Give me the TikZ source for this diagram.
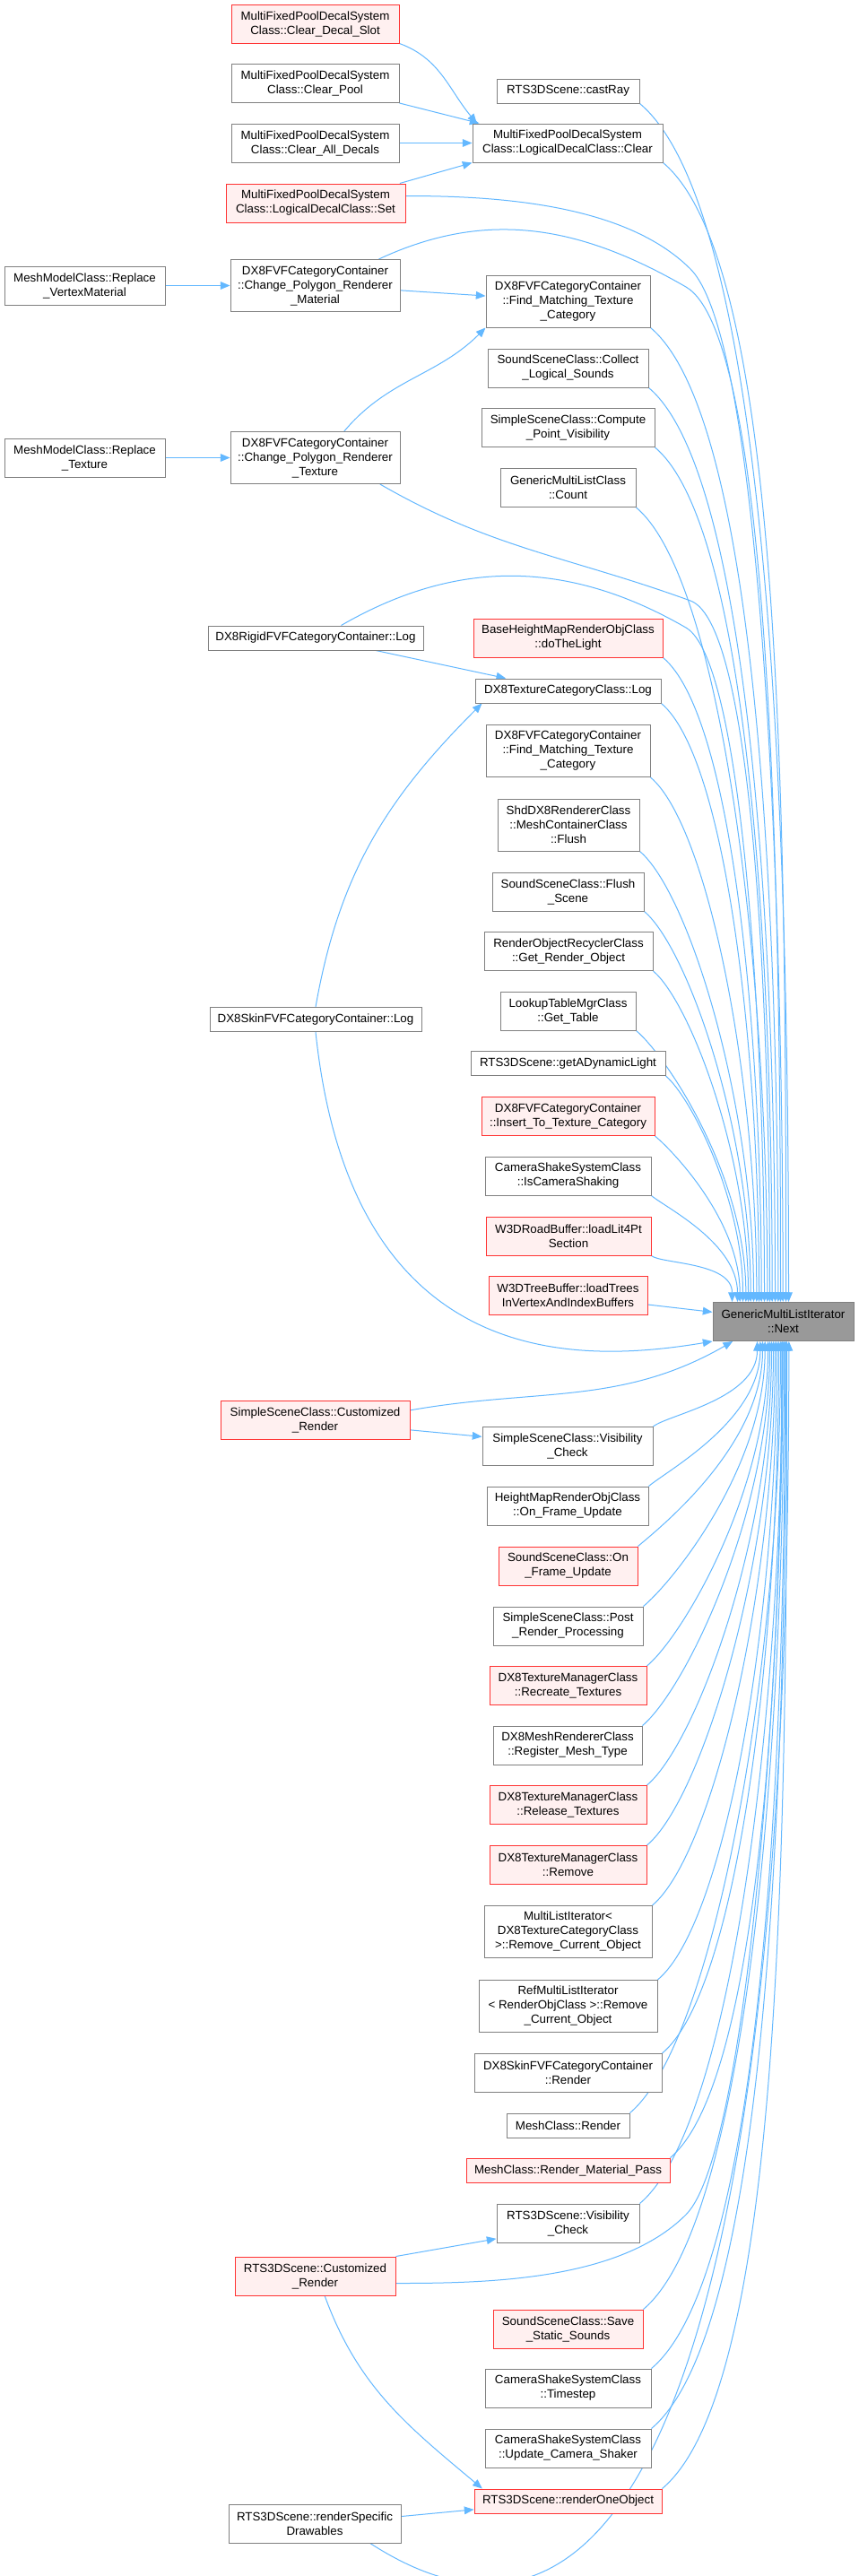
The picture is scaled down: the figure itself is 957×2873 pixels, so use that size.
\documentclass[tikz,border=0pt]{standalone}
\usepackage{fontspec}
\setmainfont{Liberation Sans}
\usepackage{xcolor}
\usetikzlibrary{arrows.meta,backgrounds}

\definecolor{edgeblue}{HTML}{63B8FF}
\definecolor{nodegray}{HTML}{808080}
\definecolor{nodered}{HTML}{FF3333}
\definecolor{nodepink}{HTML}{FFF0F0}
\definecolor{nodefill}{HTML}{999999}

\begin{document}
\begin{tikzpicture}[x=0.75pt, y=0.75pt,
    fn/.style={draw=nodegray, fill=white, line width=0.75pt, font=\fontsize{10}{12}\selectfont, align=center, inner sep=2pt},
    fnred/.style={fn, draw=nodered, fill=nodepink},
    fnhere/.style={fn, fill=nodefill},
    one/.style={minimum height=20.25pt},
    two/.style={minimum height=32.25pt},
    three/.style={minimum height=43.5pt},
    call/.style={draw=edgeblue, line width=0.75pt, -{Triangle[length=8pt,width=6.5pt]}}]

    % callers of LogicalDecalClass::Clear
    \node[fnred, two, minimum width=140.25pt] (cds) at (351.5,-26.5) {MultiFixedPoolDecalSystem\\Class::Clear\_Decal\_Slot};
    \node[fn, two, minimum width=140.25pt] (cpool) at (351.5,-93) {MultiFixedPoolDecalSystem\\Class::Clear\_Pool};
    \node[fn, two, minimum width=140.25pt] (cad) at (351.5,-159.5) {MultiFixedPoolDecalSystem\\Class::Clear\_All\_Decals};
    \node[fnred, two, minimum width=150pt] (ldset) at (352,-226.5) {MultiFixedPoolDecalSystem\\Class::LogicalDecalClass::Set};

    % left columns
    \node[fn, two, minimum width=134.25pt] (rvm) at (94.5,-318.5) {MeshModelClass::Replace\\\_VertexMaterial};
    \node[fn, two, minimum width=134.25pt] (rtex) at (94.5,-510.5) {MeshModelClass::Replace\\\_Texture};
    \node[fn, three, minimum width=141.75pt] (cprm) at (351.5,-318.5) {DX8FVFCategoryContainer\\::Change\_Polygon\_Renderer\\\_Material};
    \node[fn, three, minimum width=141.75pt] (cprt) at (351.5,-510.5) {DX8FVFCategoryContainer\\::Change\_Polygon\_Renderer\\\_Texture};
    \node[fn, one, minimum width=180pt] (rigidlog) at (352,-711.5) {DX8RigidFVFCategoryContainer::Log};
    \node[fn, one, minimum width=177pt] (skinlog) at (352,-1137) {DX8SkinFVFCategoryContainer::Log};
    \node[fnred, two, minimum width=158.25pt] (sscr) at (351.5,-1583.5) {SimpleSceneClass::Customized\\\_Render};
    \node[fnred, two, minimum width=134.25pt] (rtscr) at (351.5,-2538.5) {RTS3DScene::Customized\\\_Render};
    \node[fn, two, minimum width=144pt] (rsd) at (351,-2814.5) {RTS3DScene::renderSpecific\\Drawables};

    % direct callers of Next
    \node[fn, one, minimum width=119.25pt] (castray) at (633.5,-101.5) {RTS3DScene::castRay};
    \node[fn, two, minimum width=159pt] (ldclear) at (633,-159.5) {MultiFixedPoolDecalSystem\\Class::LogicalDecalClass::Clear};
    \node[fn, three, minimum width=137.25pt] (fmtc1) at (633.5,-336) {DX8FVFCategoryContainer\\::Find\_Matching\_Texture\\\_Category};
    \node[fn, two, minimum width=134.25pt] (cls) at (633.5,-410.5) {SoundSceneClass::Collect\\\_Logical\_Sounds};
    \node[fn, two, minimum width=144.75pt] (cpv) at (633.5,-477) {SimpleSceneClass::Compute\\\_Point\_Visibility};
    \node[fn, two, minimum width=113.25pt] (count) at (633.5,-544) {GenericMultiListClass\\::Count};
    \node[fnred, two, minimum width=158.25pt] (dothelight) at (633.5,-711.5) {BaseHeightMapRenderObjClass\\::doTheLight};
    \node[fn, one, minimum width=155.25pt] (texlog) at (633.5,-770.5) {DX8TextureCategoryClass::Log};
    \node[fn, three, minimum width=137.25pt] (fmtc2) at (633.5,-837.5) {DX8FVFCategoryContainer\\::Find\_Matching\_Texture\\\_Category};
    \node[fn, three, minimum width=118.5pt] (shdflush) at (634,-920) {ShdDX8RendererClass\\::MeshContainerClass\\::Flush};
    \node[fn, two, minimum width=126.75pt] (flushscene) at (633.5,-994.5) {SoundSceneClass::Flush\\\_Scene};
    \node[fn, two, minimum width=141pt] (getro) at (634,-1061) {RenderObjectRecyclerClass\\::Get\_Render\_Object};
    \node[fn, two, minimum width=113.25pt] (gettable) at (633.5,-1127.5) {LookupTableMgrClass\\::Get\_Table};
    \node[fn, one, minimum width=162.75pt] (getlight) at (633.5,-1186) {RTS3DScene::getADynamicLight};
    \node[fnred, two, minimum width=144.75pt] (insert) at (633.5,-1245) {DX8FVFCategoryContainer\\::Insert\_To\_Texture\_Category};
    \node[fn, two, minimum width=138.75pt] (isshaking) at (633.5,-1311.5) {CameraShakeSystemClass\\::IsCameraShaking};
    \node[fnred, two, minimum width=138pt] (loadlit) at (634,-1378.5) {W3DRoadBuffer::loadLit4Pt\\Section};
    \node[fnred, two, minimum width=132.75pt] (loadtrees) at (633.5,-1445) {W3DTreeBuffer::loadTrees\\InVertexAndIndexBuffers};
    \node[fn, two, minimum width=142.5pt] (ssvis) at (633,-1613) {SimpleSceneClass::Visibility\\\_Check};
    \node[fn, two, minimum width=135pt] (hmofu) at (633,-1679.5) {HeightMapRenderObjClass\\::On\_Frame\_Update};
    \node[fnred, two, minimum width=116.25pt] (ssofu) at (633.5,-1746.5) {SoundSceneClass::On\\\_Frame\_Update};
    \node[fn, two, minimum width=125.25pt] (postrender) at (633.5,-1813.5) {SimpleSceneClass::Post\\\_Render\_Processing};
    \node[fnred, two, minimum width=131.25pt] (recreate) at (633.5,-1880) {DX8TextureManagerClass\\::Recreate\_Textures};
    \node[fn, two, minimum width=124.5pt] (regmesh) at (633,-1946.5) {DX8MeshRendererClass\\::Register\_Mesh\_Type};
    \node[fnred, two, minimum width=131.25pt] (release) at (633.5,-2013) {DX8TextureManagerClass\\::Release\_Textures};
    \node[fnred, two, minimum width=131.25pt] (remove) at (633.5,-2080) {DX8TextureManagerClass\\::Remove};
    \node[fn, three, minimum width=140.25pt] (mlirco) at (633.5,-2154.5) {MultiListIterator<\\DX8TextureCategoryClass\\>::Remove\_Current\_Object};
    \node[fn, three, minimum width=149.25pt] (refmli) at (633.5,-2237.5) {RefMultiListIterator\\< RenderObjClass >::Remove\\\_Current\_Object};
    \node[fn, two, minimum width=156.75pt] (skinrender) at (633.5,-2312) {DX8SkinFVFCategoryContainer\\::Render};
    \node[fn, one, minimum width=102.75pt] (meshrender) at (633.5,-2370.5) {MeshClass::Render};
    \node[fnred, one, minimum width=170.25pt] (rmp) at (633.5,-2420.5) {MeshClass::Render\_Material\_Pass};
    \node[fn, two, minimum width=119.25pt] (rtsvis) at (633.5,-2479.5) {RTS3DScene::Visibility\\\_Check};
    \node[fnred, two, minimum width=125.25pt] (savess) at (633.5,-2597.5) {SoundSceneClass::Save\\\_Static\_Sounds};
    \node[fn, two, minimum width=138.75pt] (timestep) at (633.5,-2663.5) {CameraShakeSystemClass\\::Timestep};
    \node[fn, two, minimum width=138.75pt] (ucs) at (633.5,-2730.5) {CameraShakeSystemClass\\::Update\_Camera\_Shaker};
    \node[fnred, one, minimum width=156.75pt] (roo) at (633.5,-2789.5) {RTS3DScene::renderOneObject};

    % the function itself
    \node[fnhere, two, minimum width=117.75pt] (next) at (873.5,-1474) {GenericMultiListIterator\\::Next};

    \begin{scope}[on background layer]
    \path[use as bounding box, fill=white] (0,0) rectangle (957,-2873);

    % calls between callers
    \draw[call] (cds.south east) to[out=-20, in=130] ([xshift=4]ldclear.north west);
    \draw[call] (cpool.south east) -- ([xshift=6]ldclear.north west);
    \draw[call] (cad.east) -- (ldclear.west);
    \draw[call] ([xshift=-5]ldset.north east) -- (ldclear.south west);
    \draw[call] (rvm.east) -- (cprm.west);
    \draw[call] (rtex.east) -- (cprt.west);
    \draw[call] ([yshift=-4]cprm.east) -- ([yshift=4.5]fmtc1.west);
    \draw[call] ([xshift=-47]cprt.north east) to[out=50, in=-135] (fmtc1.south west);
    \draw[call] ([xshift=-40]rigidlog.south east) -- ([xshift=26]texlog.north west);
    \draw[call] (skinlog.north) to[out=80, in=225] ([xshift=6]texlog.south west);
    \draw[call] ([yshift=-8.5]sscr.east) -- ([yshift=8]ssvis.west);
    \draw[call] (rtscr.north east) -- ([yshift=-13]rtsvis.west);
    \draw[call] ([xshift=8]rtscr.south) to[out=-70, in=140] ([xshift=7]roo.north west);
    \draw[call] ([yshift=6]rsd.east) -- ([yshift=-7]roo.west);

    % calls of Next from above
    \foreach \n/\e in {castray/63.75, ldclear/61.5, fmtc1/55, cls/52.5, cpv/50, count/46,
        dothelight/41, texlog/39, fmtc2/37, shdflush/34.5, flushscene/32, getro/30,
        gettable/28, getlight/25.5, insert/23, isshaking/21, loadlit/16.5}
        \draw[call] (\n.south east) to[out=-40, in=90, out looseness=0.35, in looseness=1.1] ([xshift=\e]next.north west);
    \draw[call] ([yshift=6]ldset.east) to[out=0, in=135, looseness=0.8] (770,-300)
        to[out=-45, in=90, out looseness=0.25] ([xshift=59]next.north west);
    \draw[call] ([xshift=-18]cprm.north east) to[out=25, in=150] (765,-320)
        to[out=-30, in=90, out looseness=0.25] ([xshift=57]next.north west);
    \draw[call] ([xshift=-17]cprt.south east) to[out=-30, in=160] (770,-670)
        to[out=-20, in=90, out looseness=0.25] ([xshift=48]next.north west);
    \draw[call] ([xshift=-69]rigidlog.north east) to[out=30, in=150] (765,-700)
        to[out=-30, in=90, out looseness=0.25] ([xshift=43.5]next.north west);
    \draw[call] ([yshift=-7.5]loadtrees.east) -- ([yshift=8]next.west);

    % calls of Next from below
    \foreach \n/\e in {ssvis/37.5, hmofu/40, ssofu/42, postrender/44, recreate/46.5, regmesh/48,
        release/49.5, remove/51, mlirco/52.5, refmli/54, skinrender/55.5, meshrender/57,
        rmp/58, rtsvis/58.5, savess/60, timestep/61, ucs/61.5, roo/62.25}
        \draw[call] (\n.north east) to[out=40, in=-90, out looseness=0.35, in looseness=1.1] ([xshift=\e]next.south west);
    \draw[call] (skinlog.south) .. controls +(40,-380) and +(-150,-25) .. (next.south west);
    \draw[call] ([yshift=8]sscr.east) to[out=10, in=-150] ([xshift=17]next.south west);
    \draw[call] ([yshift=-6]rtscr.east) to[out=0, in=-135, looseness=0.8] (765,-2470)
        to[out=45, in=-90, out looseness=0.25] ([xshift=59]next.south west);
    \draw[call] ([xshift=-26]rsd.south east) .. controls +(238,-154) and +(0,-1304) .. ([xshift=64]next.south west);
    \end{scope}
\end{tikzpicture}
\end{document}
